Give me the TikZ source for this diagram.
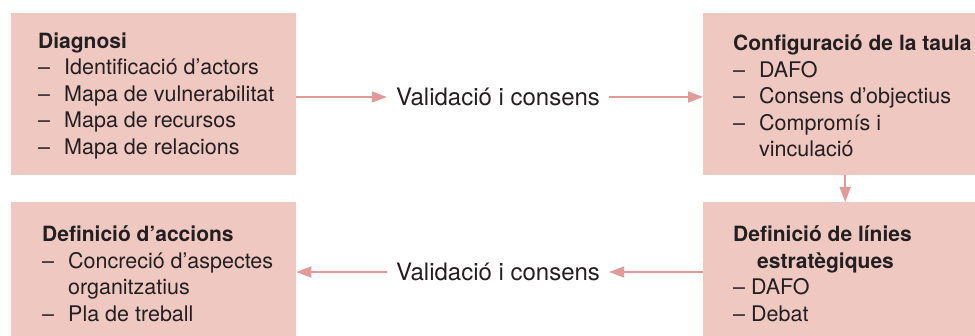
\documentclass[tikz,border=0pt]{standalone}
\usepackage{fontspec}
\setmainfont{TeX Gyre Heros}
\usepackage{tikz}
\definecolor{box_pink}{RGB}{238,200,193}
\definecolor{arrow_pink}{RGB}{224,154,152}
\definecolor{text_grey}{RGB}{35,31,32}
\newcommand{\dashitem}{\makebox[26pt][l]{--}}
\newcommand{\dashgap}{\hspace*{26pt}}
\newcommand{\boxtitle}[1]{{\fontsize{21}{26.5}\selectfont\bfseries #1}}
\tikzset{
  list_font/.style = {font=\fontsize{21.5}{26.5}\selectfont},
  link_font/.style = {font=\fontsize{24}{28}\selectfont},
  box_background/.style = {fill=box_pink}
}
\tikzset{
  box/.style = {box_background, draw=none, anchor=north west, inner sep=0},
  list/.style = {list_font, text=text_grey, align=left, anchor=west, inner sep=0},
  link/.style = {link_font, text=text_grey, inner xsep=9pt, inner ysep=0},
  arrow/.style = {draw=arrow_pink, line width=1.6pt, -{Triangle[length=15pt,width=11pt]}}
}
\usetikzlibrary{arrows.meta, positioning, calc}

\begin{document}
\begin{tikzpicture}[x=1pt, y=-1pt, node distance=0]
        \clip (0,0) rectangle (975,336);

        % Boxes
        \node[box, minimum width=285pt, minimum height=162pt] at (11,13) (diag) {};
        \node[box, minimum width=284pt, minimum height=162pt] at (703,13) (conf) {};
        \node[box, minimum width=284pt, minimum height=150pt] at (703,202) (linies) {};
        \node[box, minimum width=285pt, minimum height=150pt] at (11,202) (accions) {};

        % Box contents
        \node[list] at ($(diag.north west)+(27,83)$) (diag_txt) {
            \boxtitle{Diagnosi}\\
            \dashitem Identificació d’actors\\
            \dashitem Mapa de vulnerabilitat\\
            \dashitem Mapa de recursos\\
            \dashitem Mapa de relacions
            };
        \node[list] at ($(conf.north west)+(30,83)$) (conf_txt) {
            \boxtitle{Configuració de la taula}\\
            \dashitem DAFO\\
            \dashitem Consens d’objectius\\
            \dashitem Compromís i\\
            \dashgap vinculació
            };
        \node[list] at ($(linies.north west)+(30,72)$) (linies_txt) {
            \boxtitle{Definició de línies}\\
            \hspace*{24pt}\boxtitle{estratègiques}\\
            -- DAFO\\
            -- Debat
            };
        \node[list] at ($(accions.north west)+(31,72)$) (accions_txt) {
            \boxtitle{Definició d’accions}\\
            \dashitem Concreció d’aspectes\\
            \dashgap organitzatius\\
            \dashitem Pla de treball
            };

        % Arrow labels
        \node[link] at (498,97) (valid_top) {Validació i consens};
        \node[link] at (498,272) (valid_bottom) {Validació i consens};

        % Arrows
        \draw[arrow] (diag.east |- valid_top) -- (valid_top.west);
        \draw[arrow] (valid_top.east) -- (conf.west |- valid_top);
        \draw[arrow] (conf.south) -- (linies.north);
        \draw[arrow] (linies.west |- valid_bottom) -- (valid_bottom.east);
        \draw[arrow] (valid_bottom.west) -- (accions.east |- valid_bottom);
\end{tikzpicture}
\end{document}
